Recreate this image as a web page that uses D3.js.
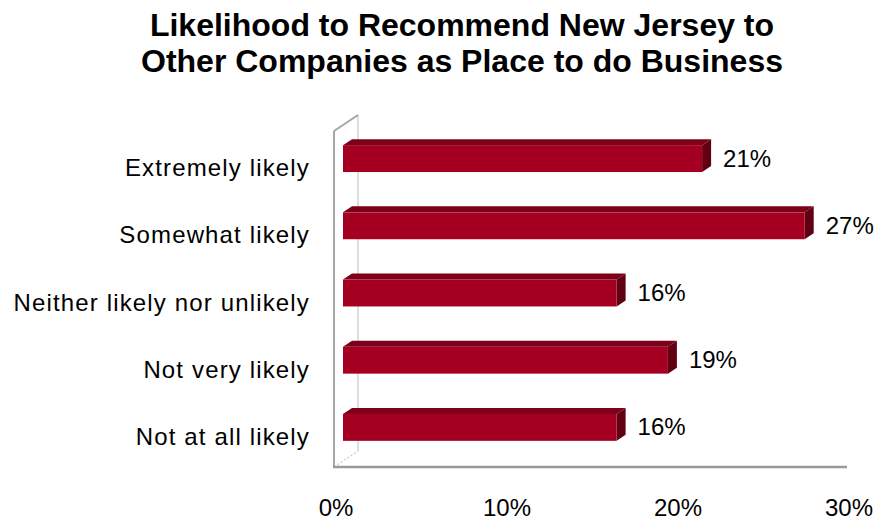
<!DOCTYPE html>
<html>
<head>
<meta charset="utf-8">
<script src="https://cdn.jsdelivr.net/npm/d3@7"></script>
<style>
  html, body { margin: 0; padding: 0; background: #fff; }
  svg { display: block; font-family: "Liberation Sans", Arial, sans-serif; }
</style>
</head>
<body>
<svg id="chart" width="877" height="521"></svg>
<script>
// Survey responses, top to bottom
const categories = [
  "Extremely likely",
  "Somewhat likely",
  "Neither likely nor unlikely",
  "Not very likely",
  "Not at all likely"
];
const values = [21, 27, 16, 19, 16];
const tickValues = [0, 10, 20, 30];
const titleLines = [
  "Likelihood to Recommend New Jersey to",
  "Other Companies as Place to do Business"
];

const svg = d3.select("#chart");

// Front plane of the 3-D plot box and its depth vector
const plot = { left: 334, right: 847, top: 131, bottom: 467 };
const depth = { dx: 24, dy: -16 };
// Bars occupy a slice of the depth
const barFront = 0.375, barBack = 0.75;

const x = d3.scaleLinear().domain([0, 30]).range([plot.left, plot.right]);
const y = d3.scaleBand().domain(categories).range([plot.top, plot.bottom]).paddingInner(0.6).paddingOuter(0.3);

// Title
svg.append("g").selectAll("text")
  .data(titleLines)
  .join("text")
  .attr("x", 462)
  .attr("y", (d, i) => 36 + i * 36)
  .attr("text-anchor", "middle")
  .attr("font-size", 32)
  .attr("font-weight", "bold")
  .attr("fill", "#000")
  .text(d => d);

// Walls and floor outline
const walls = svg.append("g").attr("fill", "none");
const bx = plot.left + depth.dx, byTop = plot.top + depth.dy, byBot = plot.bottom + depth.dy;
walls.append("line")
  .attr("x1", bx).attr("y1", byTop).attr("x2", bx).attr("y2", byBot)
  .attr("stroke", "#c8c8c8").attr("stroke-width", 1.2);
walls.append("line")
  .attr("x1", plot.left).attr("y1", plot.bottom).attr("x2", bx).attr("y2", byBot)
  .attr("stroke", "#b8b8b8").attr("stroke-width", 1).attr("stroke-dasharray", "2,2");
walls.append("line")
  .attr("x1", plot.left).attr("y1", plot.top).attr("x2", bx).attr("y2", byTop)
  .attr("stroke", "#a6a6a6").attr("stroke-width", 2);
walls.append("line")
  .attr("x1", plot.left).attr("y1", plot.top).attr("x2", plot.left).attr("y2", plot.bottom)
  .attr("stroke", "#a6a6a6").attr("stroke-width", 2);
walls.append("line")
  .attr("x1", plot.left - 1).attr("y1", plot.bottom).attr("x2", plot.right).attr("y2", plot.bottom)
  .attr("stroke", "#9a9a9a").attr("stroke-width", 2.5);

// 3-D bars: front, top and end faces
const fx = depth.dx * barFront, fy = depth.dy * barFront;
const ddx = depth.dx * (barBack - barFront), ddy = depth.dy * (barBack - barFront);
const bars = svg.append("g").selectAll("g")
  .data(categories.map((c, i) => ({ c, v: values[i] })))
  .join("g");

bars.append("path")
  .attr("fill", "#7c0019")
  .attr("d", d => {
    const x0 = x(0) + fx, x1 = x(d.v) + fx, yt = y(d.c) + fy;
    return `M${x0},${yt}L${x0 + ddx},${yt + ddy}L${x1 + ddx},${yt + ddy}L${x1},${yt}Z`;
  });
bars.append("path")
  .attr("fill", "#600012")
  .attr("d", d => {
    const x1 = x(d.v) + fx, yt = y(d.c) + fy, yb = yt + y.bandwidth();
    return `M${x1},${yt}L${x1 + ddx},${yt + ddy}L${x1 + ddx},${yb + ddy}L${x1},${yb}Z`;
  });
bars.append("rect")
  .attr("fill", "#a50021")
  .attr("x", x(0) + fx)
  .attr("y", d => y(d.c) + fy)
  .attr("width", d => x(d.v) - x(0))
  .attr("height", y.bandwidth());

// Value labels
bars.append("text")
  .attr("x", d => x(d.v) + fx + ddx + 12)
  .attr("y", d => y(d.c) + fy + y.bandwidth() / 2 + 8)
  .attr("font-size", 24)
  .attr("fill", "#000")
  .text(d => d.v + "%");

// Category labels
svg.append("g").selectAll("text")
  .data(categories)
  .join("text")
  .attr("x", 310)
  .attr("y", d => y(d) + y.bandwidth() / 2 + 11.5)
  .attr("text-anchor", "end")
  .attr("font-size", 24)
  .attr("letter-spacing", 1.15)
  .attr("fill", "#000")
  .text(d => d);

// Value axis tick labels
svg.append("g").selectAll("text")
  .data(tickValues)
  .join("text")
  .attr("x", d => x(d) + 2)
  .attr("y", 516)
  .attr("text-anchor", "middle")
  .attr("font-size", 24)
  .attr("fill", "#000")
  .text(d => d + "%");
</script>
</body>
</html>
